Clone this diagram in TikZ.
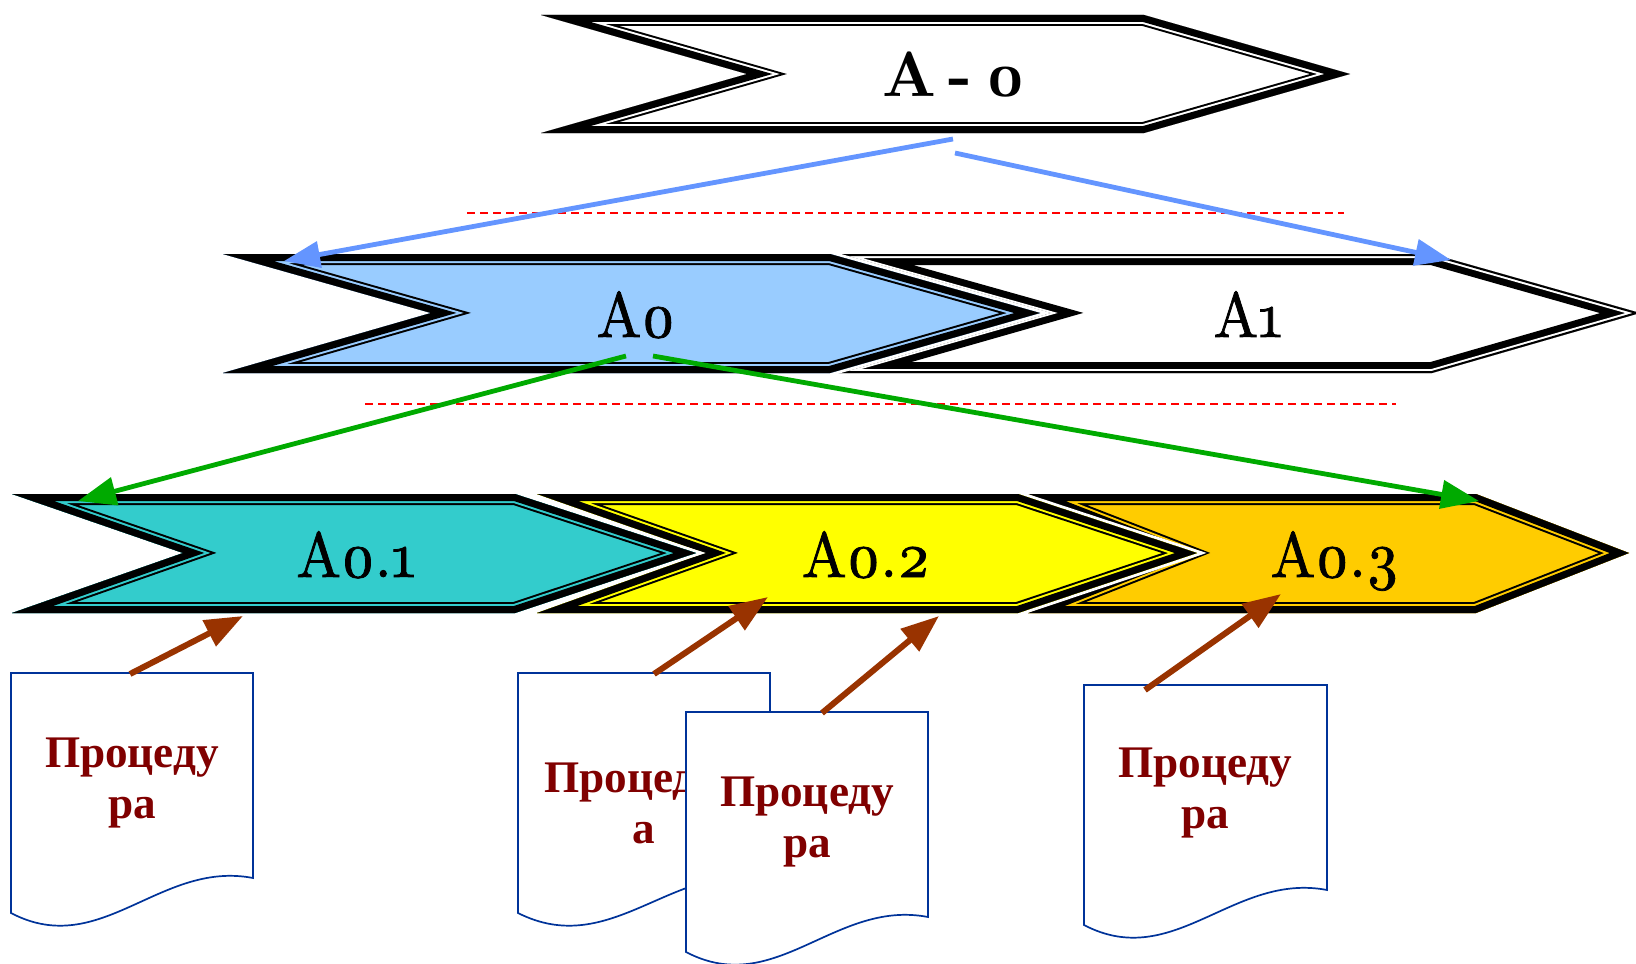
\documentclass[tikz,border=0pt]{standalone}
\usepackage{fontspec}
\newfontfamily\docfont{Liberation Serif}
\newfontfamily\lblfam{lmroman10-regular.otf}[Numbers=OldStyle,FakeStretch=0.93,FakeBold=1.2,BoldFont=lmroman10-bold.otf,BoldFeatures={Numbers=OldStyle,FakeStretch=0.97,FakeBold=0}]
\usetikzlibrary{arrows.meta}
\definecolor{cBlueArr}{RGB}{100,149,255}
\definecolor{cGreenArr}{RGB}{0,170,0}
\definecolor{cBrownArr}{RGB}{153,51,0}
\definecolor{cDocLine}{RGB}{0,51,153}
\definecolor{cDocText}{RGB}{128,0,0}
\definecolor{cLightBlue}{RGB}{153,204,255}
\definecolor{cTeal}{RGB}{51,204,204}
\definecolor{cYellow}{RGB}{255,255,0}
\definecolor{cOrange}{RGB}{255,204,0}
\newcommand\lblfont{\lblfam\fontsize{32}{38}\selectfont}
% chevron outline: TLx, TRx, tipx, notchx, top y, bottom y, mid y
\newcommand\chevP[7]{(#1,#5) -- (#2,#5) -- (#3,#7) -- (#2,#6) -- (#1,#6) -- (#4,#7) -- cycle}
% thick outer band, gap, thin inner line, white halo
\newcommand\chevA[8]{%
  \draw[white,line width=3pt,line join=miter] \chevP{#1}{#2}{#3}{#4}{#5}{#6}{#7};
  \begin{scope}
    \clip \chevP{#1}{#2}{#3}{#4}{#5}{#6}{#7};
    \fill[#8] \chevP{#1}{#2}{#3}{#4}{#5}{#6}{#7};
    \draw[black,line width=11pt,line join=miter] \chevP{#1}{#2}{#3}{#4}{#5}{#6}{#7};
    \draw[#8,line width=9pt,line join=miter] \chevP{#1}{#2}{#3}{#4}{#5}{#6}{#7};
    \draw[black,line width=7pt,line join=miter] \chevP{#1}{#2}{#3}{#4}{#5}{#6}{#7};
  \end{scope}}
% thin outer line, gap, thick inner band
\newcommand\chevB[8]{%
  \begin{scope}
    \clip \chevP{#1}{#2}{#3}{#4}{#5}{#6}{#7};
    \fill[#8] \chevP{#1}{#2}{#3}{#4}{#5}{#6}{#7};
    \draw[black,line width=11pt,line join=miter] \chevP{#1}{#2}{#3}{#4}{#5}{#6}{#7};
    \draw[#8,line width=4pt,line join=miter] \chevP{#1}{#2}{#3}{#4}{#5}{#6}{#7};
    \draw[black,line width=2pt,line join=miter] \chevP{#1}{#2}{#3}{#4}{#5}{#6}{#7};
  \end{scope}}
% document shape: left x, right x, top y
\newcommand\docP[3]{(#1,#3) -- (#2,#3) -- (#2,{#3+205})
  .. controls ({#1+0.615*(#2-#1)},{#3+187}) and ({#1+0.37*(#2-#1)},{#3+287}) .. (#1,{#3+240}) -- cycle}
\tikzset{
  lbl/.style={anchor=base,inner sep=0pt,font=\lblfont},
  doctext/.style={anchor=base,inner sep=0pt,align=center,text=cDocText,
    font=\docfont\bfseries\fontsize{22.6}{25.5}\selectfont},
  docshape/.style={draw=cDocLine,fill=white,line width=0.85pt},
  sepline/.style={red,line width=0.6pt,dash pattern=on 4pt off 2.5pt},
  bluearr/.style={cBlueArr,line width=2.4pt,-{Triangle[length=18pt,width=13pt]}},
  greenarr/.style={cGreenArr,line width=2.4pt,-{Triangle[length=19pt,width=14pt]}},
  brownarr/.style={cBrownArr,line width=3pt,-{Triangle[length=19pt,width=14pt]}},
}
\begin{document}
\begin{tikzpicture}[x=0.5pt,y=-0.5pt]
\useasboundingbox (0,0) rectangle (1636,963);
% separator lines
\coordinate (s1a) at (467,213); \coordinate (s1b) at (1344,213);
\coordinate (s2a) at (365,404); \coordinate (s2b) at (1396,404);
\draw[sepline] (s1a) -- (s1b);
\draw[sepline] (s2a) -- (s2b);
% chevrons
\chevA{541}{1144}{1350}{747}{15}{133}{74}{white}
\chevB{833}{1432}{1640}{1043}{254}{373}{313}{white}
\chevA{223}{830}{1040}{431}{254}{373}{313}{cLightBlue}
\chevA{1028}{1476}{1629}{1180}{494}{613}{553}{cOrange}
\chevA{537}{1018}{1197}{705}{494}{613}{553}{cYellow}
\chevA{12}{515}{696}{183}{494}{613}{553}{cTeal}
% labels
\node[lbl,font=\lblfont\bfseries] (nT) at (954,97) {{\spaceskip=0.2em A - 0}};
\node[lbl] (nA0) at (636,337) {A0};
\node[lbl] (nA1) at (1248,337) {A1};
\node[lbl] (nA01) at (356,577) {A0.1};
\node[lbl] (nA02) at (866,577) {A0.2};
\node[lbl] (nA03) at (1335,577) {A0.3};
% documents
\draw[docshape] \docP{11}{253}{673};
\node[doctext] (d1) at (132,818) {Процеду\\ра};
\draw[docshape] \docP{518}{770}{673};
\node[doctext] (d2) at (644,843) {Процедур\\а};
\draw[docshape] \docP{686}{928}{712};
\node[doctext] (d3) at (807,857) {Процеду\\ра};
\draw[docshape] \docP{1084}{1327}{685};
\node[doctext] (d4) at (1205.5,828) {Процеду\\ра};
% connector end points
\coordinate (b1s) at (953,139); \coordinate (b1e) at (284,261);
\coordinate (b2s) at (955,153); \coordinate (b2e) at (1451,260);
\coordinate (g1s) at (626,356); \coordinate (g1e) at (78,501);
\coordinate (g2s) at (653,356); \coordinate (g2e) at (1479,501);
\coordinate (r1s) at (130,674); \coordinate (r1e) at (243,616);
\coordinate (r2s) at (654,674); \coordinate (r2e) at (768,597);
\coordinate (r3s) at (822,713); \coordinate (r3e) at (939,616);
\coordinate (r4s) at (1145,690); \coordinate (r4e) at (1281,594);
\draw[bluearr] (b1s) -- (b1e);
\draw[bluearr] (b2s) -- (b2e);
\draw[greenarr] (g1s) -- (g1e);
\draw[greenarr] (g2s) -- (g2e);
\draw[brownarr] (r1s) -- (r1e);
\draw[brownarr] (r2s) -- (r2e);
\draw[brownarr] (r3s) -- (r3e);
\draw[brownarr] (r4s) -- (r4e);
\end{tikzpicture}
\end{document}
